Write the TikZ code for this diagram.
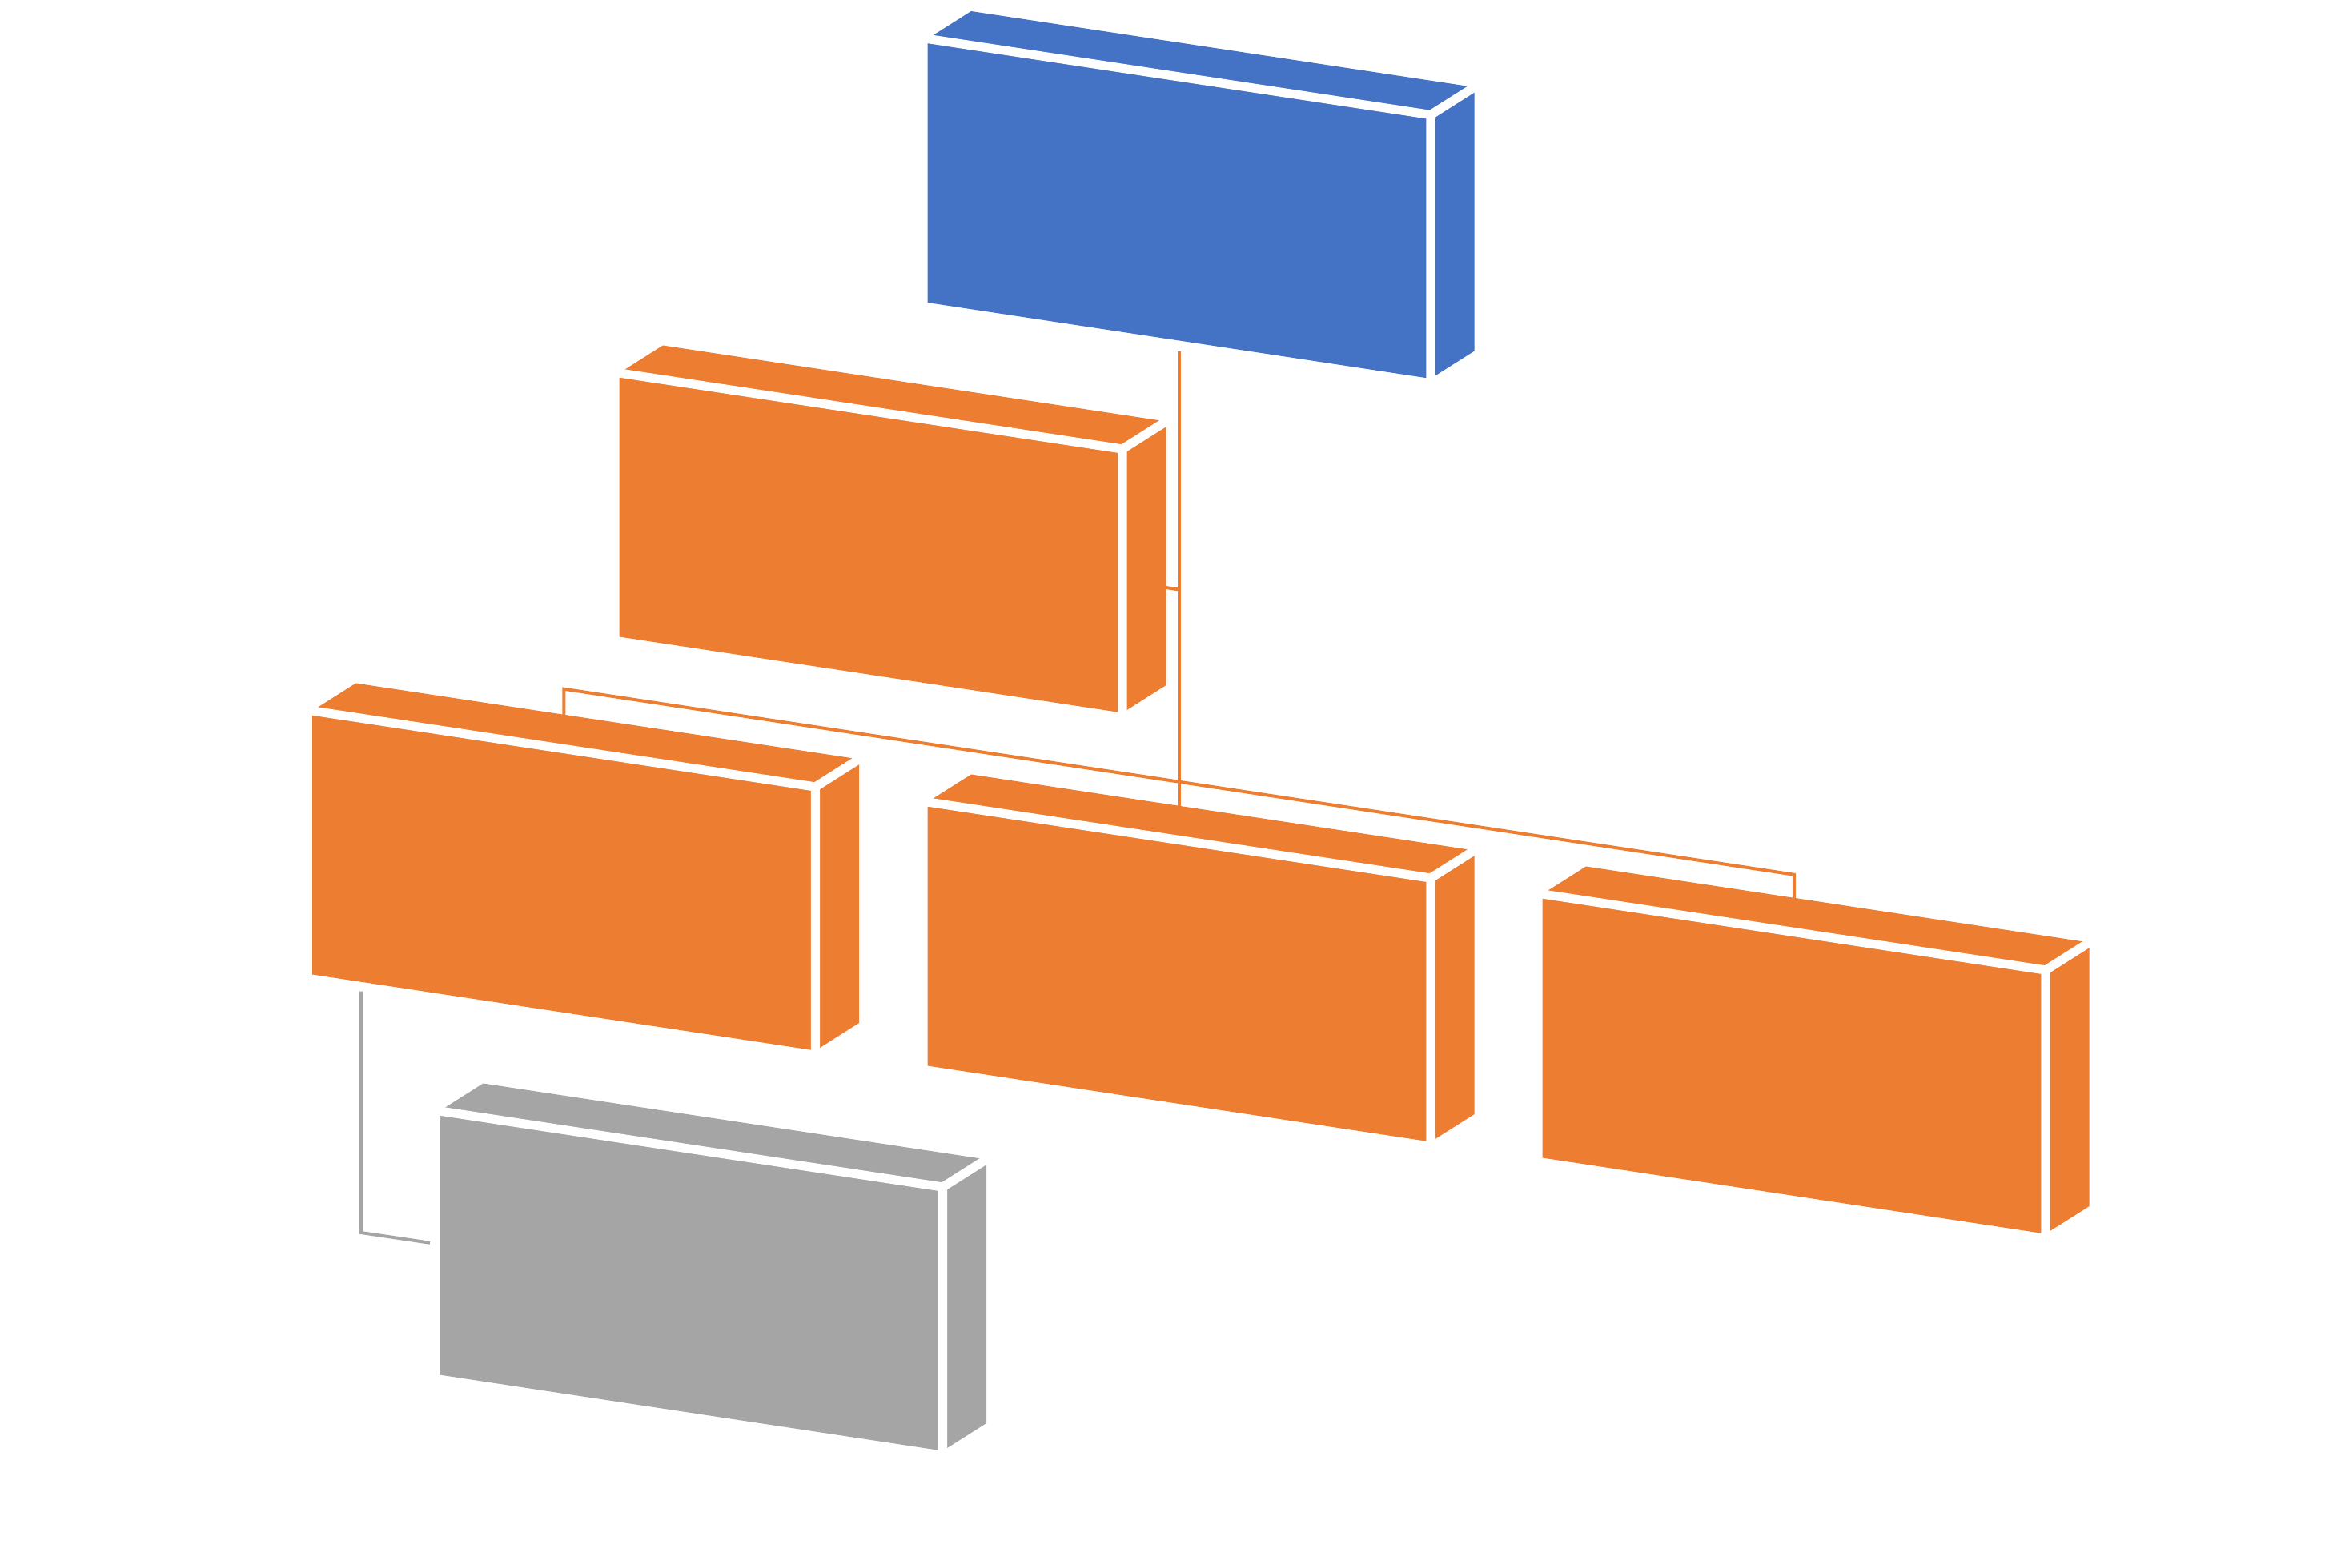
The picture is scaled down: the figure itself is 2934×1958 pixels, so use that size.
\documentclass[tikz,border=0pt]{standalone}
\usepackage{xcolor}
\usepackage{tikz}
\usetikzlibrary{backgrounds,calc}
\definecolor{boxblue}{HTML}{4472C4}
\definecolor{boxorange}{HTML}{ED7D31}
\definecolor{boxgray}{HTML}{A5A5A5}

\begin{document}
\begin{tikzpicture}[x=0.01cm,y=-0.01cm,
		gapline/.style={white,line width=0.112cm,line cap=rect},
		link/.style={boxorange,line width=0.04cm},
		graylink/.style={boxgray,line width=0.04cm}]
			\useasboundingbox (0,0) rectangle (2934,1958);
			% Vẽ các hộp (mặt trước, mặt trên, mặt bên)
			\foreach \n/\px/\py/\c in {top/1158.5/48.5/boxblue, asst/773.5/466/boxorange, left/390/888/boxorange, mid/1158.5/1002/boxorange, right/1926.5/1117/boxorange, sub/549/1388/boxgray}
			{
			\begin{scope}[shift={(\px,\py)}]
			\fill[\c] (0,0) -- (628.5,95) -- (628.5,424.5) -- (0,329.5) -- cycle;
			\fill[\c] (0,0) -- (54.5,-34.5) -- (683,60.5) -- (628.5,95) -- cycle;
			\fill[\c] (628.5,95) -- (683,60.5) -- (683,390) -- (628.5,424.5) -- cycle;
			\draw[gapline] (0,0) -- (628.5,95) -- (628.5,424.5);
			\draw[gapline] (628.5,95) -- (683,60.5);
			\coordinate (\n-tc) at (314.25,47.5);
			\coordinate (\n-bc) at (314.25,377);
			\coordinate (\n-bl) at (0,329.5);
			\coordinate (\n-l) at (0,164.75);
			\coordinate (\n-r) at (628.5,259.75);
			\end{scope}
			}
			% Vẽ các đường nối
			\begin{pgfonlayer}{background}
			\coordinate (jA) at (1472.75,736.5);
			\coordinate (busL) at (704.25,860.7);
			\coordinate (busR) at (2240.75,1092.7);
			\coordinate (gB) at (451,1540);
			\draw[link] ($(top-bc)+(0,13)$) -- (mid-tc);
			\draw[link] (asst-r) -- (jA);
			\draw[link] (left-tc) -- (busL) -- (busR) -- (right-tc);
			\draw[graylink] ($(left-bl)+(61,21)$) -- (gB) -- ($(sub-l)+(-12,0)$);
			\end{pgfonlayer}
		\end{tikzpicture}
\end{document}
